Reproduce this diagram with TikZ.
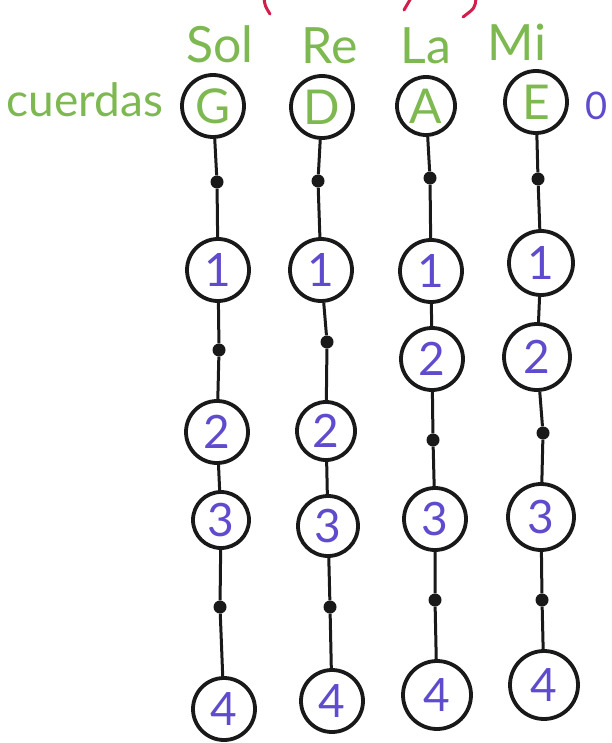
\documentclass[tikz,border=0pt]{standalone}
\usepackage{fontspec}
\setmainfont{Lato}
\definecolor{hgreen}{RGB}{125,185,80}
\definecolor{hpurple}{RGB}{95,75,205}
\definecolor{hred}{RGB}{210,30,75}
\definecolor{hink}{RGB}{25,25,25}
\begin{document}
\begin{tikzpicture}[x=1pt,y=-1pt,
  circ/.style={circle,draw=hink,line width=3.8pt,minimum size=62pt,inner sep=0pt,fill=white,
    font=\fontsize{46}{48}\selectfont,text=hpurple},
  strnode/.style={circ,text=hgreen,font=\fontsize{48}{50}\selectfont},
  fret/.style={circle,fill=hink,minimum size=13pt,inner sep=0pt},
  lbl/.style={text=hgreen,font=\fontsize{50}{54}\selectfont,inner sep=0pt},
  wire/.style={draw=hink,line width=3pt}]
\useasboundingbox[fill=white] (0,0) rectangle (612,743);
% column 1
\node[strnode] (G) at (213,106) {G};
\node[fret] (d11) at (217,182) {};
\node[circ] (n11) at (218,270) {1};
\node[fret] (d12) at (219,350) {};
\node[circ] (n12) at (217,432) {2};
\node[circ,minimum size=56pt] (n13) at (221,520) {3};
\node[fret] (d13) at (220,607) {};
\node[circ] (n14) at (224,709) {4};
% column 2
\node[strnode] (D) at (322,107) {D};
\node[fret] (d21) at (318,181) {};
\node[circ] (n21) at (321,270) {1};
\node[fret] (d22) at (327,342) {};
\node[circ,minimum size=58pt] (n22) at (326,431) {2};
\node[circ,minimum size=60pt] (n23) at (328,526) {3};
\node[fret] (d23) at (330,607) {};
\node[circ] (n24) at (332,701) {4};
% column 3
\node[strnode,minimum size=58pt] (A) at (426,106) {A};
\node[fret] (d31) at (430,178) {};
\node[circ] (n31) at (431,271) {1};
\node[circ] (n32) at (432,359) {2};
\node[fret] (d33) at (433,440) {};
\node[circ] (n33) at (435,519) {3};
\node[fret] (d34) at (435,600) {};
\node[circ,minimum size=68pt] (n34) at (437,695) {4};
% column 4
\node[strnode] (E) at (536,102) {E};
\node[fret] (d41) at (538,179) {};
\node[circ,minimum size=64pt] (n41) at (541,263) {1};
\node[circ,minimum size=66pt] (n42) at (537,357) {2};
\node[fret] (d43) at (543,433) {};
\node[circ,minimum size=66pt] (n43) at (541,517) {3};
\node[fret] (d44) at (542,600) {};
\node[circ,minimum size=68pt] (n44) at (544,685) {4};
% strings
\draw[wire] (G) -- (d11) -- (n11) -- (d12) -- (n12) -- (n13) -- (d13) -- (n14);
\draw[wire] (D) -- (d21) -- (n21) -- (d22) -- (n22) -- (n23) -- (d23) -- (n24);
\draw[wire] (A) -- (d31) -- (n31) -- (n32) -- (d33) -- (n33) -- (d34) -- (n34);
\draw[wire] (E) -- (d41) -- (n41) -- (n42) -- (d43) -- (n43) -- (d44) -- (n44);
% labels
\node[lbl] (sol) at (220,44) {Sol};
\node[lbl] (re) at (330,46) {Re};
\node[lbl] (la) at (426,46) {La};
\node[lbl] (mi) at (517,42) {Mi};
\node[lbl,font=\fontsize{46}{48}\selectfont] (cuerdas) at (85,100) {cuerdas};
\node[text=hpurple,font=\fontsize{38}{40}\selectfont,inner sep=0pt] (zero) at (597,106) {0};
% red marks cut off at the top
\draw[hred,line width=3pt,line cap=round] (264,-2) .. controls (265,6) .. (270,14);
\draw[hred,line width=3pt,line cap=round] (404,10) .. controls (408,4) .. (411,-2);
\draw[hred,line width=3pt,line cap=round] (476,-2) .. controls (475,8) .. (463,17);
\end{tikzpicture}
\end{document}
